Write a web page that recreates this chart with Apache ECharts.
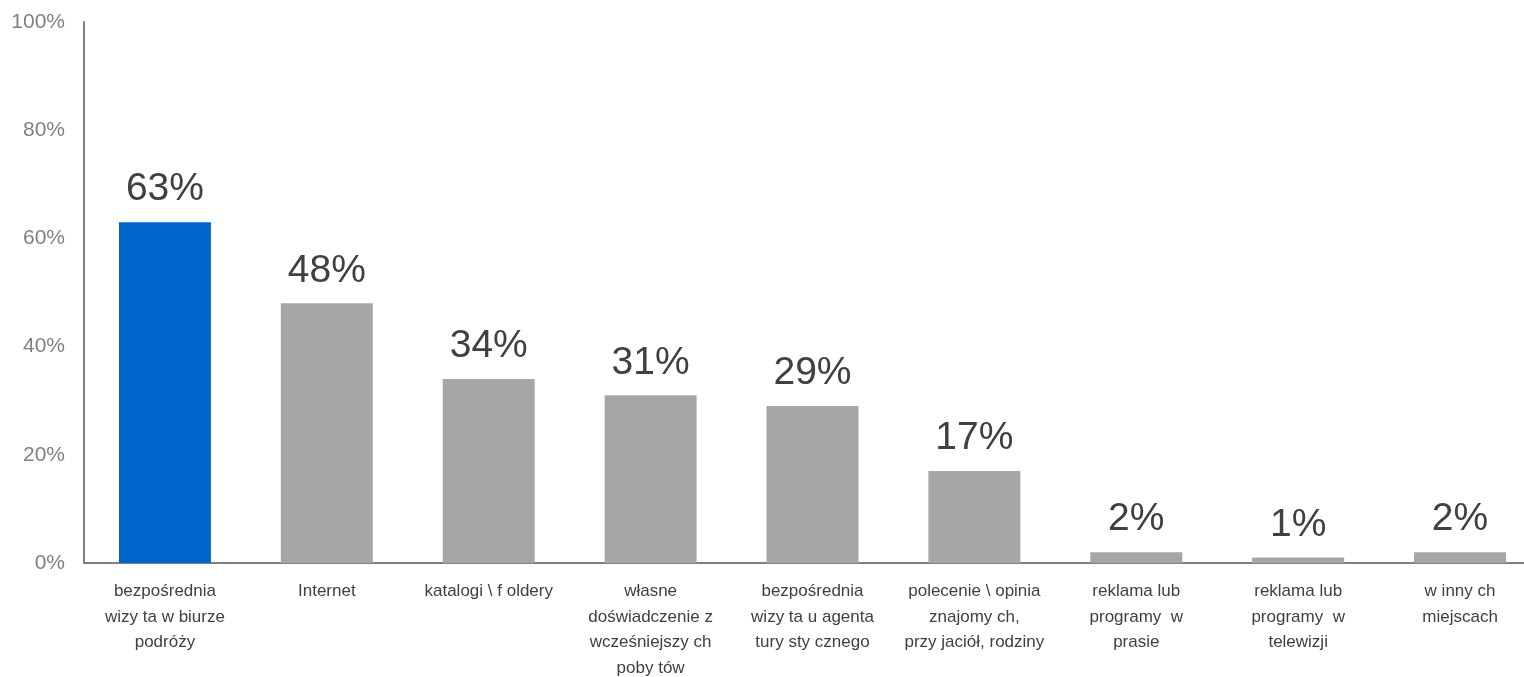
<!DOCTYPE html>
<html>
<head>
<meta charset="utf-8">
<script src="https://cdn.jsdelivr.net/npm/echarts@6/dist/echarts.min.js"></script>
<style>
  html, body { margin: 0; padding: 0; background: #fff; }
  #chart { width: 1524px; height: 677px; }
</style>
</head>
<body>
<div id="chart"></div>
<script>
// Źródła informacji przy wyborze oferty (odsetek wskazań)
const categories = [
  'bezpośrednia\nwizy ta w biurze\npodróży',
  'Internet',
  'katalogi \\ f oldery',
  'własne\ndoświadczenie z\nwcześniejszy ch\npoby tów',
  'bezpośrednia\nwizy ta u agenta\ntury sty cznego',
  'polecenie \\ opinia\nznajomy ch,\nprzy jaciół, rodziny',
  'reklama lub\nprogramy  w\nprasie',
  'reklama lub\nprogramy  w\ntelewizji',
  'w inny ch\nmiejscach'
];
const values = [63, 48, 34, 31, 29, 17, 2, 1, 2];
const yTicks = [0, 20, 40, 60, 80, 100];

const highlightColor = '#0066CC';
const baseColor = '#A6A6A6';

const chart = echarts.init(document.getElementById('chart'));
chart.setOption({
  animation: false,
  textStyle: { fontFamily: '"Liberation Sans", Arial, sans-serif' },
  grid: {
    left: 84, right: -17, top: 22, bottom: 114,
    containLabel: false,
    outerBoundsMode: 'none'
  },
  xAxis: {
    type: 'category',
    data: categories,
    axisLine: { show: true, lineStyle: { color: '#808080', width: 2 } },
    axisTick: { show: false },
    axisLabel: {
      interval: 0,
      color: '#404040',
      fontSize: 17,
      lineHeight: 25.5,
      margin: 16
    }
  },
  yAxis: {
    type: 'value',
    min: yTicks[0],
    max: yTicks[yTicks.length - 1],
    interval: 20,
    axisLine: { show: true, lineStyle: { color: '#808080', width: 2 } },
    axisTick: { show: false },
    splitLine: { show: false },
    axisLabel: {
      color: '#808080',
      fontSize: 21,
      margin: 19,
      formatter: v => v + '%'
    }
  },
  series: [{
    type: 'bar',
    barWidth: 92,
    data: values.map((v, i) => ({
      value: v,
      itemStyle: { color: i === 0 ? highlightColor : baseColor }
    })),
    label: {
      show: true,
      position: 'top',
      distance: 13,
      color: '#404040',
      fontSize: 39,
      formatter: p => p.value + '%'
    }
  }]
});
</script>
</body>
</html>
